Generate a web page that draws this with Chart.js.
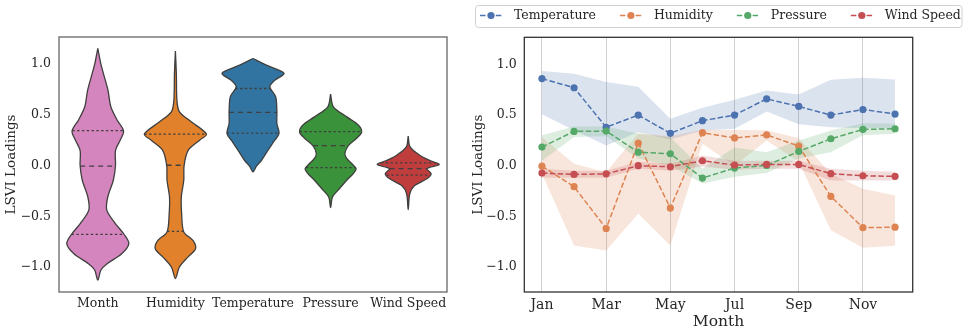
<!DOCTYPE html>
<html><head><meta charset="utf-8">
<script src="https://cdn.jsdelivr.net/npm/chart.js@4.4.1/dist/chart.umd.min.js"></script>
<style>
html,body{margin:0;padding:0;background:#fff;}
#wrap{position:relative;width:968px;height:336px;overflow:hidden;background:#fff;}
#c1{position:absolute;left:0;top:0;}
#c2{position:absolute;left:460px;top:0;}
</style></head><body>
<div id="wrap"><canvas id="c1" width="460" height="336"></canvas><canvas id="c2" width="508" height="336"></canvas></div>
<script>
// ---------- DATA: violin panel ----------
const violinCategories = ['Month', 'Humidity', 'Temperature', 'Pressure', 'Wind Speed'];
// density outlines: y positions and relative half-widths (1 = widest)
const monthDensityY = [1.155, 1.0, 0.91, 0.74, 0.58, 0.45, 0.34, 0.25, 0.15, 0.0, -0.145, -0.31, -0.44, -0.57, -0.68, -0.77, -0.87, -0.97, -1.03, -1.13];
const monthDensityW = [0, 0.1, 0.18, 0.33, 0.42, 0.62, 0.83, 0.72, 0.57, 0.57, 0.5, 0.32, 0.29, 0.56, 0.85, 1.0, 0.77, 0.29, 0.1, 0];
const humidityDensityY = [1.13, 0.91, 0.64, 0.53, 0.43, 0.31, 0.25, 0.15, 0.0, -0.145, -0.31, -0.47, -0.655, -0.74, -0.82, -0.9, -1.0, -1.115];
const humidityDensityW = [0, 0.03, 0.05, 0.13, 0.52, 1.0, 0.78, 0.41, 0.28, 0.27, 0.19, 0.2, 0.27, 0.57, 0.65, 0.41, 0.13, 0];
const temperatureDensityY = [1.056, 0.99, 0.91, 0.84, 0.776, 0.68, 0.53, 0.415, 0.316, 0.25, 0.15, 0.05, -0.01, -0.063];
const temperatureDensityW = [0, 0.43, 1.0, 0.7, 0.54, 0.73, 0.77, 0.77, 0.84, 0.7, 0.48, 0.27, 0.1, 0];
const pressureDensityY = [0.704, 0.58, 0.48, 0.4, 0.33, 0.27, 0.197, 0.118, 0.07, 0.02, -0.03, -0.08, -0.145, -0.24, -0.31, -0.414];
const pressureDensityW = [0, 0.09, 0.52, 0.89, 1.0, 0.84, 0.57, 0.46, 0.52, 0.68, 0.82, 0.73, 0.52, 0.25, 0.06, 0];
const windDensityY = [0.29, 0.184, 0.1, 0.05, 0.01, -0.03, -0.08, -0.13, -0.2, -0.28, -0.434];
const windDensityW = [0, 0.06, 0.38, 0.7, 1.0, 0.6, 0.74, 0.6, 0.2, 0.05, 0];
const violinQ1 = [-0.678, -0.65, 0.32, -0.02, -0.095];
const violinMedian = [-0.005, 0.003, 0.525, 0.197, -0.03];
const violinQ3 = [0.345, 0.31, 0.76, 0.335, 0.026];

// ---------- DATA: monthly line panel ----------
const months = ['Jan','Feb','Mar','Apr','May','Jun','Jul','Aug','Sep','Oct','Nov','Dec'];
const monthTickIndex = [0, 2, 4, 6, 8, 10];
const yTickValues = [-1.0, -0.5, 0.0, 0.5, 1.0];
const seriesNames = ['Temperature', 'Humidity', 'Pressure', 'Wind Speed'];
const temperature = [0.86, 0.77, 0.38, 0.50, 0.32, 0.445, 0.50, 0.66, 0.585, 0.50, 0.555, 0.51];
const temperatureUpper = [0.934, 0.908, 0.826, 0.78, 0.464, 0.572, 0.652, 0.743, 0.704, 0.849, 0.868, 0.852];
const temperatureLower = [0.508, 0.35, 0.20, 0.33, 0.26, 0.348, 0.365, 0.536, 0.41, 0.38, 0.37, 0.37];
const humidity = [-0.005, -0.207, -0.62, 0.223, -0.418, 0.326, 0.274, 0.304, 0.194, -0.303, -0.612, -0.607];
const humidityUpper = [0.28, 0.02, -0.065, 0.32, 0.29, 0.355, 0.352, 0.35, 0.27, -0.08, -0.227, -0.293];
const humidityLower = [-0.08, -0.787, -0.836, -0.474, -0.787, 0.217, 0.0, 0.25, 0.04, -0.638, -0.81, -0.79];
const pressure = [0.184, 0.339, 0.342, 0.134, 0.118, -0.122, -0.023, 0.003, 0.141, 0.266, 0.358, 0.365];
const pressureUpper = [0.30, 0.388, 0.388, 0.316, 0.28, -0.03, 0.18, 0.134, 0.25, 0.348, 0.42, 0.414];
const pressureLower = [0.05, 0.283, 0.29, 0.07, 0.0, -0.175, -0.11, -0.073, 0.07, 0.134, 0.30, 0.316];
const windSpeed = [-0.073, -0.086, -0.08, 0.0, -0.01, 0.049, 0.006, 0.013, 0.013, -0.079, -0.099, -0.105];
const windSpeedUpper = [-0.03, -0.05, -0.05, 0.04, 0.02, 0.10, 0.05, 0.05, 0.05, -0.03, -0.05, -0.06];
const windSpeedLower = [-0.12, -0.12, -0.12, -0.03, -0.05, -0.007, -0.04, -0.03, -0.03, -0.145, -0.145, -0.145];

// ---------- STYLE ----------
const FONT = '"DejaVu Serif", "Liberation Serif", serif';
const TEXT = '#262626';
const violinFill = ['#d585bd', '#e1812c', '#3274a1', '#3a923a', '#c03d3e'];
const lineColors = ['#4c72b0', '#dd8452', '#55a868', '#c44e52'];
const bandColors = ['rgba(76,114,176,0.2)', 'rgba(221,132,82,0.2)', 'rgba(85,168,104,0.2)', 'rgba(196,78,82,0.2)'];
const Y_MIN = -1.247, Y_MAX = 1.268;
const HALF = 0.4;
Chart.defaults.font.family = FONT;
Chart.defaults.color = TEXT;

function fmtTick(v) { return (v < 0 ? '\u2212' : '') + Math.abs(v).toFixed(1); }
function frame(color, w) {
  return { id: 'frame', afterDraw(chart) {
    const { ctx, chartArea: a } = chart;
    ctx.save(); ctx.strokeStyle = color; ctx.lineWidth = w;
    ctx.strokeRect(a.left, a.top, a.right - a.left, a.bottom - a.top); ctx.restore();
  } };
}

// ---------- LEFT: violins ----------
const profiles = [
  [monthDensityY, monthDensityW], [humidityDensityY, humidityDensityW],
  [temperatureDensityY, temperatureDensityW], [pressureDensityY, pressureDensityW],
  [windDensityY, windDensityW]
];
function widthAt(ys, ws, q) {
  for (let k = 0; k < ys.length - 1; k++) {
    if (q <= ys[k] && q >= ys[k + 1]) {
      const t = (ys[k] - q) / (ys[k] - ys[k + 1]);
      return ws[k] + t * (ws[k + 1] - ws[k]);
    }
  }
  return 0;
}
const violinDatasets = [];
profiles.forEach(([ys, ws], i) => {
  const right = ys.map((y, k) => ({ x: i + ws[k] * HALF, y }));
  const left = ys.map((y, k) => ({ x: i - ws[k] * HALF, y })).reverse();
  violinDatasets.push({
    data: right.concat(left.slice(1)), backgroundColor: violinFill[i], borderColor: '#3f3f3f',
    borderWidth: 1.3, fill: 'shape', tension: 0.3, pointRadius: 0, order: 10
  });
  [[violinQ1[i], [2.4, 2.4]], [violinMedian[i], [5, 4]], [violinQ3[i], [2.4, 2.4]]].forEach(([q, dash]) => {
    const w = widthAt(ys, ws, q) * HALF;
    violinDatasets.push({
      data: [{ x: i - w, y: q }, { x: i + w, y: q }], borderColor: '#3f3f3f', borderWidth: 1.3,
      borderDash: dash, pointRadius: 0, fill: false, order: 1
    });
  });
});

new Chart(document.getElementById('c1'), {
  type: 'line',
  data: { datasets: violinDatasets },
  options: {
    responsive: false, animation: false, devicePixelRatio: 1,
    layout: { padding: { left: 0, right: 13, top: 37, bottom: 0 } },
    plugins: { legend: { display: false }, tooltip: { enabled: false } },
    scales: {
      x: {
        type: 'linear', min: -0.5, max: 4.5,
        afterBuildTicks: s => { s.ticks = violinCategories.map((c, i) => ({ value: i })); },
        afterFit: s => { s.height = 44; },
        grid: { display: false, drawTicks: false }, border: { display: false },
        ticks: { autoSkip: false, maxRotation: 0, padding: 4.5, font: { size: 12.5 }, color: TEXT,
          callback: v => violinCategories[v] }
      },
      y: {
        min: Y_MIN, max: Y_MAX,
        afterBuildTicks: s => { s.ticks = yTickValues.map(v => ({ value: v })); },
        afterFit: s => { s.width = 59; },
        grid: { display: false, drawTicks: false }, border: { display: false },
        ticks: { padding: 8, font: { size: 12.5 }, color: TEXT, callback: v => fmtTick(v) },
        title: { display: true, text: 'LSVI Loadings', font: { size: 13.5 }, color: TEXT, padding: { top: 3.6, bottom: 0 } }
      }
    }
  },
  plugins: [frame('#666666', 1.3)]
});

// ---------- RIGHT: monthly lines ----------
const series = [
  [temperature, temperatureUpper, temperatureLower],
  [humidity, humidityUpper, humidityLower],
  [pressure, pressureUpper, pressureLower],
  [windSpeed, windSpeedUpper, windSpeedLower]
];
const lineDatasets = [];
const toPts = arr => arr.map((v, i) => ({ x: i, y: v }));
series.forEach(([vals, up, lo], k) => {
  lineDatasets.push({ data: toPts(up), fill: '+1', backgroundColor: bandColors[k], borderWidth: 0,
    pointRadius: 0, tension: 0, order: 100 - k });
  lineDatasets.push({ data: toPts(lo), fill: false, borderWidth: 0, pointRadius: 0, tension: 0, order: 100 - k });
});
series.forEach(([vals], k) => {
  lineDatasets.push({ label: seriesNames[k], data: toPts(vals), fill: false, borderColor: lineColors[k],
    borderWidth: 1.5, borderDash: [5.5, 2.4], pointRadius: 3.6, pointBackgroundColor: lineColors[k],
    pointBorderWidth: 0, tension: 0, order: 10 - k });
});

const legendPlugin = {
  id: 'customLegend',
  afterDraw(chart) {
    const ctx = chart.ctx;
    ctx.save();
    const bx = 15.5, by = 5.5, bw = 486.5, bh = 22, r = 3;
    ctx.beginPath();
    ctx.moveTo(bx + r, by); ctx.lineTo(bx + bw - r, by); ctx.arcTo(bx + bw, by, bx + bw, by + r, r);
    ctx.lineTo(bx + bw, by + bh - r); ctx.arcTo(bx + bw, by + bh, bx + bw - r, by + bh, r);
    ctx.lineTo(bx + r, by + bh); ctx.arcTo(bx, by + bh, bx, by + bh - r, r);
    ctx.lineTo(bx, by + r); ctx.arcTo(bx, by, bx + r, by, r); ctx.closePath();
    ctx.fillStyle = 'rgba(255,255,255,0.8)'; ctx.fill();
    ctx.strokeStyle = '#d0d0d0'; ctx.lineWidth = 1; ctx.stroke();
    ctx.font = '12.5px ' + FONT;
    ctx.textBaseline = 'middle';
    let x = 20;
    const yc = 15.5;
    seriesNames.forEach((name, k) => {
      ctx.strokeStyle = lineColors[k]; ctx.lineWidth = 1.5; ctx.setLineDash([5.5, 2.4]);
      ctx.beginPath(); ctx.moveTo(x, yc); ctx.lineTo(x + 22, yc); ctx.stroke();
      ctx.setLineDash([]);
      ctx.fillStyle = lineColors[k]; ctx.beginPath(); ctx.arc(x + 11, yc, 3.6, 0, Math.PI * 2); ctx.fill();
      ctx.fillStyle = TEXT; ctx.textAlign = 'left';
      ctx.fillText(name, x + 34, yc + 0.5);
      x = x + 34 + ctx.measureText(name).width + 24;
    });
    ctx.restore();
  }
};

new Chart(document.getElementById('c2'), {
  type: 'line',
  data: { datasets: lineDatasets },
  options: {
    responsive: false, animation: false, devicePixelRatio: 1,
    layout: { padding: { left: 0, right: 55.3, top: 37.3, bottom: 0 } },
    plugins: { legend: { display: false }, tooltip: { enabled: false } },
    scales: {
      x: {
        type: 'linear', min: -0.55, max: 11.55,
        afterBuildTicks: s => { s.ticks = monthTickIndex.map(v => ({ value: v })); },
        afterFit: s => { s.height = 44; },
        grid: { display: true, drawTicks: false, color: '#d0d0d0', lineWidth: 1 }, border: { display: false },
        ticks: { autoSkip: false, maxRotation: 0, padding: 5.3, font: { size: 14 }, color: TEXT,
          callback: v => months[v] },
        title: { display: true, text: 'Month', font: { size: 15.5 }, color: TEXT, padding: { top: 0, bottom: 4.7 } }
      },
      y: {
        min: Y_MIN, max: Y_MAX,
        afterBuildTicks: s => { s.ticks = yTickValues.map(v => ({ value: v })); },
        afterFit: s => { s.width = 64.3; },
        grid: { display: false, drawTicks: false }, border: { display: false },
        ticks: { padding: 7.6, font: { size: 12.5 }, color: TEXT, callback: v => fmtTick(v) },
        title: { display: true, text: 'LSVI Loadings', font: { size: 13.5 }, color: TEXT, padding: { top: 9.9, bottom: 0 } }
      }
    }
  },
  plugins: [frame('#333333', 1.3), legendPlugin]
});
</script>
</body></html>
